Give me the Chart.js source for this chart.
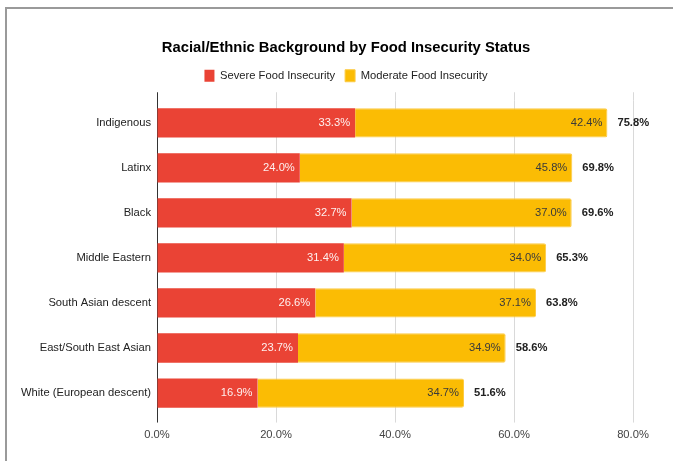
<!DOCTYPE html>
<html>
<head>
<meta charset="utf-8">
<script src="https://cdn.jsdelivr.net/npm/chart.js@4"></script>
<style>
  html, body { margin: 0; padding: 0; background: #fff; overflow: hidden; }
  #wrap { position: relative; width: 673px; height: 461px; }
  #frame { position: absolute; left: 5px; top: 7px; width: 700px; height: 480px; border: 2px solid #9a9a9a; box-sizing: border-box; }
  canvas { position: absolute; left: 0; top: 0; }
</style>
</head>
<body>
<div id="wrap">
  <div id="frame"></div>
  <canvas id="chart" width="673" height="461"></canvas>
</div>
<script>
const groups = ["Indigenous", "Latinx", "Black", "Middle Eastern", "South Asian descent", "East/South East Asian", "White (European descent)"];
const severe = [33.3, 24.0, 32.7, 31.4, 26.6, 23.7, 16.9];
const moderate = [42.4, 45.8, 37.0, 34.0, 37.1, 34.9, 34.7];
const totals = [75.8, 69.8, 69.6, 65.3, 63.8, 58.6, 51.6];
const xTicks = [0, 20, 40, 60, 80];

const FONT = "'Liberation Sans', Arial, sans-serif";
const FS = 11.2;

// value labels inside bars + bold totals after the stack
const barLabels = {
  id: "barLabels",
  afterDatasetsDraw(chart) {
    const ctx = chart.ctx;
    ctx.save();
    ctx.textBaseline = "middle";
    chart.data.datasets.forEach((ds, i) => {
      const meta = chart.getDatasetMeta(i);
      meta.data.forEach((bar, j) => {
        ctx.font = FS + "px " + FONT;
        ctx.textAlign = "right";
        ctx.fillStyle = i === 0 ? "rgba(255,255,255,0.92)" : "#3a3a3a";
        ctx.fillText(ds.data[j].toFixed(1) + "%", bar.x - 5, bar.y);
        if (i === chart.data.datasets.length - 1) {
          ctx.font = "bold " + FS + "px " + FONT;
          ctx.textAlign = "left";
          ctx.fillStyle = "#222";
          ctx.fillText(totals[j].toFixed(1) + "%", bar.x + 10, bar.y);
        }
      });
    });
    ctx.restore();
  }
};

// grid lines in the reference poke a little above the plot area
const gridTop = {
  id: "gridTop",
  beforeDatasetsDraw(chart) {
    const ctx = chart.ctx, x = chart.scales.x, top = chart.chartArea.top;
    ctx.save();
    ctx.lineWidth = 1;
    x.ticks.forEach(t => {
      const px = Math.round(x.getPixelForValue(t.value)) + 0.5;
      ctx.strokeStyle = t.value === 0 ? "#333" : "#d9d9d9";
      ctx.beginPath();
      ctx.moveTo(px, top - 8);
      ctx.lineTo(px, top);
      ctx.stroke();
    });
    ctx.restore();
  }
};

new Chart(document.getElementById("chart").getContext("2d"), {
  type: "bar",
  data: {
    labels: groups,
    datasets: [
      { label: "Severe Food Insecurity", data: severe, backgroundColor: "#ea4335" },
      { label: "Moderate Food Insecurity", data: moderate, backgroundColor: "#fbbc04", borderColor: "#fccb45", borderWidth: 1, borderRadius: 2, borderSkipped: "start" }
    ]
  },
  options: {
    indexAxis: "y",
    responsive: false,
    animation: false,
    categoryPercentage: 0.65,
    barPercentage: 1,
    layout: { padding: { left: 59, right: 40, top: 29, bottom: 13 } },
    plugins: {
      title: {
        display: true,
        text: "Racial/Ethnic Background by Food Insecurity Status",
        color: "#000",
        font: { family: FONT, size: 14.8, weight: "bold" },
        padding: { top: 10, bottom: 3 }
      },
      legend: {
        labels: {
          color: "#222",
          font: { family: FONT, size: FS },
          boxWidth: 10,
          boxHeight: 12,
          padding: 10
        }
      },
      tooltip: { enabled: false }
    },
    scales: {
      x: {
        stacked: true,
        min: 0,
        max: 80,
        afterBuildTicks: s => { s.ticks = xTicks.map(v => ({ value: v })); },
        ticks: {
          color: "#444",
          font: { family: FONT, size: FS },
          padding: 6,
          callback: v => v.toFixed(1) + "%"
        },
        grid: {
          color: c => c.tick && c.tick.value === 0 ? "#333" : "#d9d9d9",
          tickColor: c => c.tick && c.tick.value === 0 ? "#333" : "#d9d9d9",
          drawTicks: true,
          tickLength: 7
        },
        border: { display: false }
      },
      // empty top axis: only reserves the gap under the legend
      gap: {
        type: "linear",
        position: "top",
        axis: "x",
        min: 0,
        max: 1,
        afterFit: s => { s.height = 8.5; },
        ticks: { display: false },
        grid: { display: false, drawTicks: false },
        border: { display: false }
      },
      y: {
        stacked: true,
        afterFit: s => {
          s.width = 98;
          // long labels run past the narrow axis box, so don't clip them
          s._computeLabelArea = () => undefined;
        },
        ticks: {
          color: "#222",
          font: { family: FONT, size: FS },
          padding: 6
        },
        grid: { display: false, drawTicks: false },
        border: { display: true, color: "#333", width: 1 }
      }
    }
  },
  plugins: [gridTop, barLabels]
});
</script>
</body>
</html>
